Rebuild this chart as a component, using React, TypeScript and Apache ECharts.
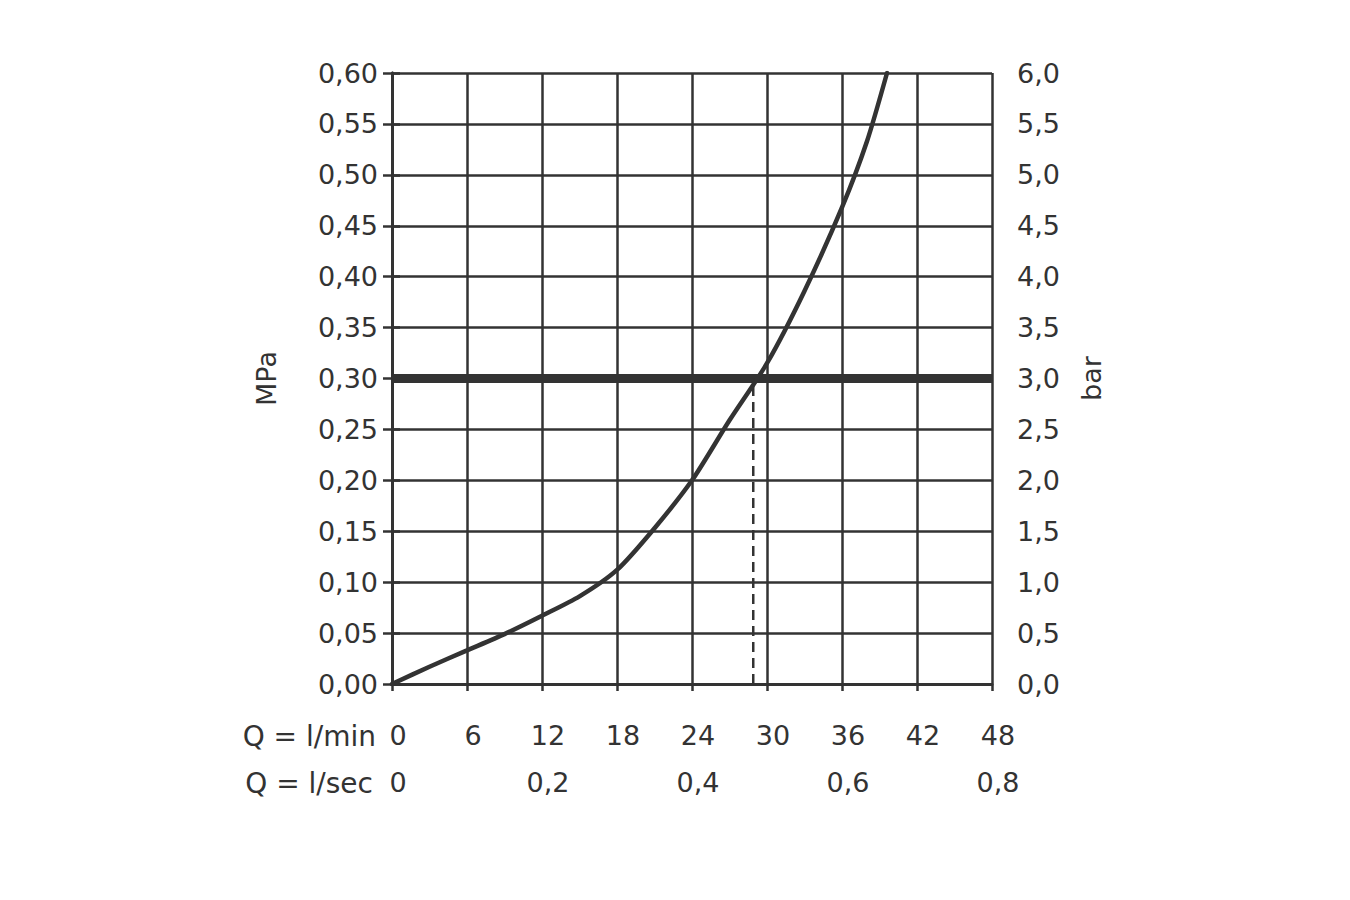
import React, { useEffect, useRef } from "react";
import * as echarts from "echarts";

const flowLpm = [0, 3, 6, 9, 12, 15, 18, 21, 24, 27, 30, 33, 36, 38, 39.6];
const pressureMPa = [0, 0.017, 0.033, 0.049, 0.067, 0.086, 0.112, 0.153, 0.2, 0.259, 0.315, 0.386, 0.468, 0.533, 0.6];
const referencePressure = 0.3;
const referenceFlow = 28.9;
const lpmTicks = { min: 0, max: 48, interval: 6 };
const lpsTicks = { min: 0, max: 0.8, interval: 0.2 };
const mpaTicks = { min: 0, max: 0.6, interval: 0.05 };
const barTicks = { min: 0, max: 6, interval: 0.5 };

const FONT = "DejaVu Sans";
const INK = "#333333";

export default function App() {
  const ref = useRef<HTMLDivElement>(null);
  useEffect(() => {
    if (!ref.current) return;
    const chart = echarts.init(ref.current, undefined, { renderer: "svg" });
    const labelStyle = { fontFamily: FONT, fontSize: 27, color: INK };
    chart.setOption({
      animation: false,
      backgroundColor: "#ffffff",
      grid: { left: 392, right: 358, top: 73, bottom: 216, containLabel: false },
      xAxis: [
        {
          type: "value",
          min: lpmTicks.min,
          max: lpmTicks.max,
          interval: lpmTicks.interval,
          position: "bottom",
          axisLine: { show: true, onZero: false, lineStyle: { color: INK, width: 3 } },
          axisTick: { show: true, inside: false, length: 7, lineStyle: { color: INK, width: 2.5 } },
          splitLine: { show: true, lineStyle: { color: INK, width: 2.5 } },
          axisLabel: { ...labelStyle, margin: 38, padding: [0, 0, 0, 12], formatter: (v: number) => String(v) },
        },
        {
          type: "value",
          min: lpsTicks.min,
          max: lpsTicks.max,
          interval: lpsTicks.interval,
          position: "bottom",
          axisLine: { show: false },
          axisTick: { show: false },
          splitLine: { show: false },
          axisLabel: {
            ...labelStyle,
            margin: 85,
            padding: [0, 0, 0, 12],
            formatter: (v: number) => (v === 0 ? "0" : v.toFixed(1).replace(".", ",")),
          },
        },
      ],
      yAxis: [
        {
          type: "value",
          min: mpaTicks.min,
          max: mpaTicks.max,
          interval: mpaTicks.interval,
          position: "left",
          name: "MPa",
          nameLocation: "middle",
          nameRotate: 90,
          nameGap: 112,
          nameTextStyle: { fontFamily: FONT, fontSize: 27, color: INK },
          axisLine: { show: true, lineStyle: { color: INK, width: 3 } },
          axisTick: { show: true, inside: false, length: 9, lineStyle: { color: INK, width: 2.5 } },
          splitLine: { show: true, lineStyle: { color: INK, width: 2.5 } },
          axisLabel: { ...labelStyle, margin: 14, formatter: (v: number) => v.toFixed(2).replace(".", ",") },
        },
        {
          type: "value",
          min: barTicks.min,
          max: barTicks.max,
          interval: barTicks.interval,
          position: "right",
          name: "bar",
          nameLocation: "middle",
          nameRotate: 90,
          nameGap: 86,
          nameTextStyle: { fontFamily: FONT, fontSize: 27, color: INK },
          axisLine: { show: true, lineStyle: { color: INK, width: 3 } },
          axisTick: { show: true, inside: false, length: 8, lineStyle: { color: INK, width: 2.5 } },
          splitLine: { show: false },
          axisLabel: { ...labelStyle, margin: 25, formatter: (v: number) => v.toFixed(1).replace(".", ",") },
        },
      ],
      graphic: [
        {
          type: "text",
          x: 376,
          y: 736,
          style: { text: "Q = l/min", fontFamily: FONT, fontSize: 28, fill: INK, textAlign: "right", textVerticalAlign: "middle", align: "right", verticalAlign: "middle" },
        },
        {
          type: "text",
          x: 373,
          y: 783,
          style: { text: "Q = l/sec", fontFamily: FONT, fontSize: 28, fill: INK, textAlign: "right", textVerticalAlign: "middle", align: "right", verticalAlign: "middle" },
        },
      ],
      series: [
        {
          type: "line",
          xAxisIndex: 0,
          yAxisIndex: 0,
          data: [
            [lpmTicks.min, referencePressure],
            [lpmTicks.max, referencePressure],
          ],
          symbol: "none",
          lineStyle: { color: INK, width: 9 },
          silent: true,
        },
        {
          type: "line",
          xAxisIndex: 0,
          yAxisIndex: 0,
          data: [
            [referenceFlow, 0],
            [referenceFlow, referencePressure],
          ],
          symbol: "none",
          lineStyle: { color: INK, width: 2.5, type: [10, 6] },
          silent: true,
        },
        {
          type: "line",
          xAxisIndex: 0,
          yAxisIndex: 0,
          data: flowLpm.map((x, i) => [x, pressureMPa[i]]),
          smooth: 0.25,
          symbol: "none",
          lineStyle: { color: INK, width: 4.5, cap: "round" },
          silent: true,
        },
      ],
    });
    return () => chart.dispose();
  }, []);
  return <div ref={ref} style={{ position: "fixed", left: 0, top: 0, width: 1350, height: 900 }} />;
}
